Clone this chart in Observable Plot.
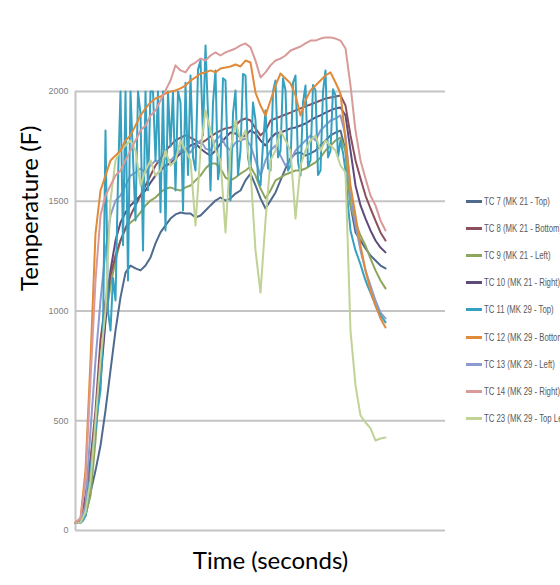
<!DOCTYPE html>
<html><head><meta charset="utf-8">
<script src="https://cdn.jsdelivr.net/npm/d3@7"></script>
<script src="https://cdn.jsdelivr.net/npm/@observablehq/plot@0.6"></script>
<style>
body{margin:0;background:#fff;}
#wrap{position:relative;width:560px;height:585px;overflow:hidden;background:#fff;}
#legend{position:absolute;left:0;top:0;width:560px;height:585px;pointer-events:none;}
.item{position:absolute;left:466px;height:12px;white-space:nowrap;}
.sw{position:absolute;left:0;top:5px;width:16px;height:3px;}
.lbl{position:absolute;left:18px;top:0;font-family:"Liberation Sans Narrow","Liberation Sans",sans-serif;font-size:10.5px;line-height:12px;color:#595959;transform:scaleX(0.74);transform-origin:0 50%;}
</style></head><body>
<div id="wrap"><div id="chart"></div><div id="legend"></div></div>
<script>
const time = [0,50,100,150,200,250,300,350,400,450,500,550,600,650,700,750,800,850,900,950,1000,1050,1100,1150,1200,1250,1300,1350,1400,1450,1500,1550,1600,1650,1700,1750,1800,1850,1900,1950,2000,2050,2100,2150,2200,2250,2300,2350,2400,2450,2500,2550,2600,2650,2700,2750,2800,2850,2900,2950,3000,3050,3100];
// TC 11 was logged more densely
const timeFine = [0,25,50,75,100,125,150,175,200,225,250,275,300,325,350,375,400,425,450,475,500,525,550,575,600,625,650,675,700,725,750,775,800,825,850,875,900,925,950,975,1000,1025,1050,1075,1100,1125,1150,1175,1200,1225,1250,1275,1300,1325,1350,1375,1400,1425,1450,1475,1500,1525,1550,1575,1600,1625,1650,1675,1700,1725,1750,1775,1800,1825,1850,1875,1900,1925,1950,1975,2000,2025,2050,2075,2100,2125,2150,2175,2200,2225,2250,2275,2300,2325,2350,2375,2400,2425,2450,2475,2500,2525,2550,2575,2600,2625,2650,2675,2700,2725,2750,2775,2800,2825,2850,2875,2900,2925,2950,2975,3000,3025,3050,3075,3100];

const tc7 = [35,36,68,173,273,387,547,729,911,1062,1175,1207,1194,1185,1207,1244,1308,1358,1390,1421,1440,1449,1444,1444,1426,1435,1458,1481,1503,1517,1503,1513,1535,1549,1595,1626,1572,1513,1467,1503,1540,1595,1649,1695,1718,1722,1708,1718,1731,1754,1777,1800,1813,1822,1731,1481,1358,1321,1285,1253,1230,1207,1194];
const tc8 = [35,55,137,319,547,866,1048,1162,1253,1321,1376,1435,1481,1526,1572,1617,1663,1695,1731,1754,1777,1790,1800,1790,1777,1763,1777,1795,1809,1822,1832,1836,1845,1868,1877,1868,1832,1800,1822,1868,1877,1886,1895,1904,1914,1923,1932,1941,1950,1959,1968,1973,1977,1982,1936,1800,1686,1604,1526,1467,1412,1358,1321];
const tc9 = [35,35,68,159,410,729,957,1116,1230,1321,1376,1403,1421,1449,1481,1503,1517,1540,1558,1563,1554,1549,1563,1572,1595,1617,1649,1672,1672,1649,1608,1595,1608,1626,1640,1658,1617,1558,1513,1549,1595,1608,1622,1631,1640,1640,1649,1663,1677,1699,1731,1754,1777,1790,1731,1481,1403,1344,1298,1239,1185,1139,1103];
const tc10 = [35,46,159,319,501,683,957,1185,1321,1403,1449,1481,1503,1526,1549,1585,1617,1640,1663,1672,1695,1718,1731,1754,1763,1740,1722,1708,1731,1763,1790,1813,1809,1790,1800,1822,1809,1777,1754,1786,1809,1813,1822,1832,1836,1845,1854,1868,1882,1891,1904,1914,1923,1927,1891,1731,1572,1481,1421,1367,1321,1289,1267];
const tc11 = [35,35,36,45,68,150,273,380,456,560,638,900,1822,1000,911,1150,1048,1600,2000,1300,2000,1139,2000,1700,1412,2000,1900,1276,2000,1550,2000,2000,1686,2000,1450,2000,1367,2000,1750,2000,1549,2000,1950,1458,2040,1620,2073,1700,1640,2100,2141,1800,2210,1900,1549,1950,2096,1600,1686,2060,2050,1650,1503,1900,2005,1620,1731,2080,2073,1700,1640,1950,1868,1600,1572,1760,1914,1650,1640,2000,2050,1700,1731,2060,2005,1640,1663,2040,2073,1680,1617,1950,2027,1660,1686,2030,2005,1620,1640,2000,2096,1700,1731,2010,1982,1700,1777,1720,1640,1480,1367,1320,1276,1245,1212,1175,1139,1110,1084,1055,1025,1000,980,965,948];
const tc12 = [35,55,273,775,1353,1549,1617,1686,1708,1731,1777,1800,1845,1891,1923,1950,1968,1977,1991,2000,2005,2014,2027,2050,2064,2082,2087,2096,2087,2105,2109,2114,2123,2114,2141,2132,1995,1936,1891,1959,2027,2082,2059,2037,1982,1891,1959,2005,2027,2050,2073,2087,2041,1991,1777,1572,1435,1298,1185,1093,1025,966,925];
const tc13 = [35,36,114,456,775,1048,1276,1435,1503,1526,1572,1617,1631,1649,1631,1663,1686,1677,1695,1686,1708,1731,1740,1722,1754,1777,1740,1731,1777,1800,1754,1731,1768,1777,1786,1754,1686,1617,1686,1731,1754,1708,1663,1686,1731,1754,1777,1800,1777,1822,1845,1868,1877,1891,1800,1549,1390,1276,1185,1116,1048,993,966];
const tc14 = [35,55,228,683,1139,1435,1526,1572,1617,1640,1686,1731,1777,1822,1845,1891,1914,1959,2005,2050,2119,2096,2087,2119,2132,2150,2141,2164,2178,2164,2178,2187,2196,2210,2219,2201,2141,2064,2087,2119,2141,2150,2164,2187,2196,2205,2219,2232,2232,2241,2246,2246,2241,2232,2196,2027,1822,1686,1604,1526,1481,1412,1367];
const tc23 = [35,36,82,228,501,775,1002,1503,1686,1731,1754,1777,1731,1572,1640,1686,1617,1640,1731,1663,1686,1777,1731,1686,1390,1731,1914,1822,1731,1686,1358,1731,1868,1777,1822,1640,1276,1084,1412,1686,1731,1822,1777,1731,1421,1663,1731,1777,1800,1731,1777,1754,1731,1663,1631,911,661,524,492,465,410,419,424];

const seriesNames = ["TC 7 (MK 21 - Top)","TC 8 (MK 21 - Bottom)","TC 9 (MK 21 - Left)","TC 10 (MK 21 - Right)","TC 11 (MK 29 - Top)","TC 12  (MK 29 - Bottom)","TC 13 (MK 29 - Left)","TC 14 (MK 29 - Right)","TC 23 (MK 29 - Top Left)"];
const seriesValues = [tc7, tc8, tc9, tc10, tc11, tc12, tc13, tc14, tc23];
const seriesTimes = [time, time, time, time, timeFine, time, time, time, time];
const seriesColors = ["#4f6a8f","#8b4f5d","#8ea55e","#5e4b7c","#35a0bf","#e08a3a","#8c9ad0","#d99a9a","#c0d296"];
// order in which the lines are stacked (last on top)
const drawOrder = [0, 2, 3, 1, 6, 4, 8, 5, 7];
const yTicks = [0,500,1000,1500,2000];
const xLabel = "Time (seconds)";
const yLabel = "Temperature (F)";

const rows = [];
drawOrder.forEach(k => seriesValues[k].forEach((v, i) => rows.push({t: seriesTimes[k][i], v, name: seriesNames[k]})));

const chart = Plot.plot({
  width: 560, height: 585,
  marginLeft: 75, marginRight: 115, marginTop: 91, marginBottom: 55,
  style: {background: "#fff"},
  x: {domain: [0, 3700], axis: null},
  y: {domain: [0, 2000], axis: null},
  color: {domain: seriesNames, range: seriesColors},
  marks: [
    Plot.gridY(yTicks, {stroke: "#c4c4c4", strokeOpacity: 1, strokeWidth: 2}),
    Plot.ruleX([0], {y1: 0, y2: 2000, stroke: "#c4c4c4", strokeWidth: 2}),
    Plot.axisY(yTicks, {tickSize: 0, tickPadding: 7, fontSize: 9, fill: "#808080", label: null, tickFormat: d => String(d), fontFamily: "Liberation Sans Narrow, Liberation Sans, sans-serif"}),
    Plot.lineY(rows, {x: "t", y: "v", z: "name", stroke: "name", strokeWidth: 2, strokeLinejoin: "round"}),
    Plot.text([xLabel], {frameAnchor: "bottom", dx: 10, dy: 38, fontSize: 24, fontFamily: "Lato, sans-serif", fill: "#000"}),
    Plot.text([yLabel], {frameAnchor: "left", dx: -45, dy: -20, rotate: -90, fontSize: 24, fontFamily: "Lato, sans-serif", fill: "#000"})
  ]
});
document.getElementById("chart").appendChild(chart);

const legend = document.getElementById("legend");
seriesNames.forEach((name, k) => {
  const it = document.createElement("div");
  it.className = "item";
  it.style.top = (195 + k * 27.1) + "px";
  it.innerHTML = `<span class="sw" style="background:${seriesColors[k]}"></span><span class="lbl"></span>`;
  it.querySelector(".lbl").textContent = name;
  legend.appendChild(it);
});
</script>
</body></html>
